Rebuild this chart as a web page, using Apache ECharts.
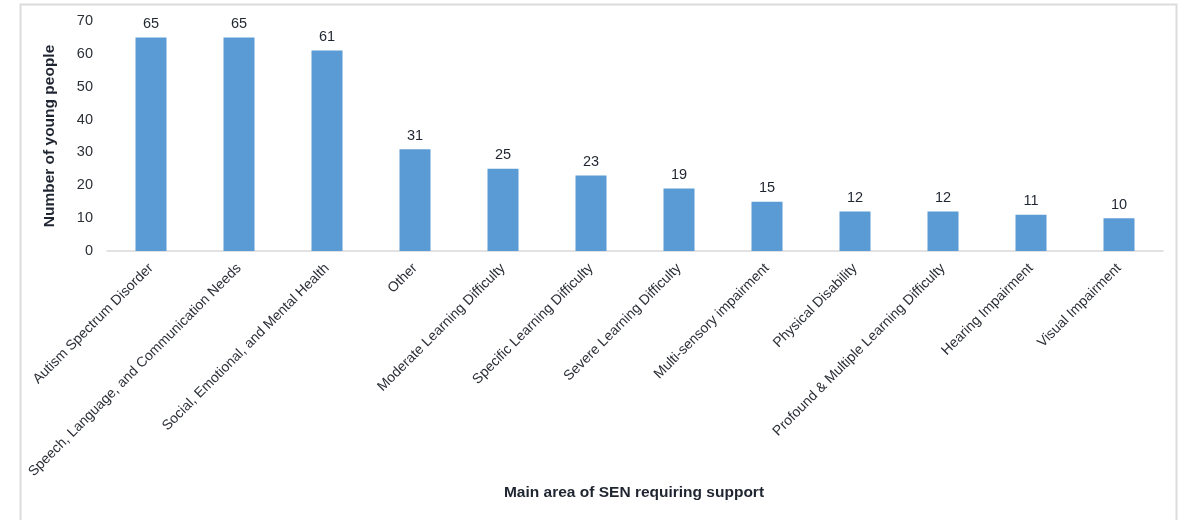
<!DOCTYPE html>
<html>
<head>
<meta charset="utf-8">
<script src="https://cdn.jsdelivr.net/npm/echarts@6/dist/echarts.min.js"></script>
<style>
html,body{margin:0;padding:0;background:#fff;}
#chart{width:1183px;height:520px;}
</style>
</head>
<body>
<div id="chart"></div>
<script>
const categories = [
  'Autism Spectrum Disorder',
  'Speech, Language, and Communication Needs',
  'Social, Emotional, and Mental Health',
  'Other',
  'Moderate Learning Difficulty',
  'Specific Learning Difficulty',
  'Severe Learning Difficulty',
  'Multi-sensory impairment',
  'Physical Disability',
  'Profound & Multiple Learning Difficulty',
  'Hearing Impairment',
  'Visual Impairment'
];
const values = [65, 65, 61, 31, 25, 23, 19, 15, 12, 12, 11, 10];
const yAxisTitle = 'Number of young people';
const xAxisTitle = 'Main area of SEN requiring support';

const chart = echarts.init(document.getElementById('chart'), null, {renderer: 'canvas'});
const font = '"Liberation Sans", Arial, sans-serif';
chart.setOption({
  animation: false,
  textStyle: {fontFamily: font},
  graphic: [{
    type: 'rect',
    shape: {x: 20.5, y: 4.5, width: 1156, height: 540},
    style: {fill: 'none', stroke: '#dcdcdc', lineWidth: 2},
    silent: true
  }, {
    type: 'text',
    style: {
      text: xAxisTitle, x: 634, y: 493,
      textAlign: 'center', textVerticalAlign: 'middle',
      font: 'bold 15.5px ' + font, fill: '#1f2530'
    },
    silent: true
  }],
  grid: {left: 107, right: 20, top: 21, bottom: 269, containLabel: false},
  xAxis: {
    type: 'category',
    data: categories,
    axisLine: {lineStyle: {color: '#d9d9d9', width: 1.5}},
    axisTick: {show: false},
    axisLabel: {rotate: 45, color: '#2b2f36', fontSize: 14, fontFamily: font, interval: 0, margin: 15}
  },
  yAxis: {
    type: 'value',
    min: 0, max: 70, interval: 10,
    name: yAxisTitle,
    nameLocation: 'middle',
    nameGap: 49,
    nameTextStyle: {fontWeight: 'bold', fontSize: 15.5, color: '#1f2530', fontFamily: font},
    axisLine: {show: false},
    axisTick: {show: false},
    splitLine: {show: false},
    axisLabel: {color: '#2b2f36', fontSize: 14.5, fontFamily: font, margin: 14}
  },
  series: [{
    type: 'bar',
    data: values,
    barWidth: 31,
    itemStyle: {color: '#5b9bd5'},
    label: {show: true, position: 'top', color: '#1f2530', fontSize: 14.5, fontFamily: font, distance: 6}
  }]
});
</script>
</body>
</html>
